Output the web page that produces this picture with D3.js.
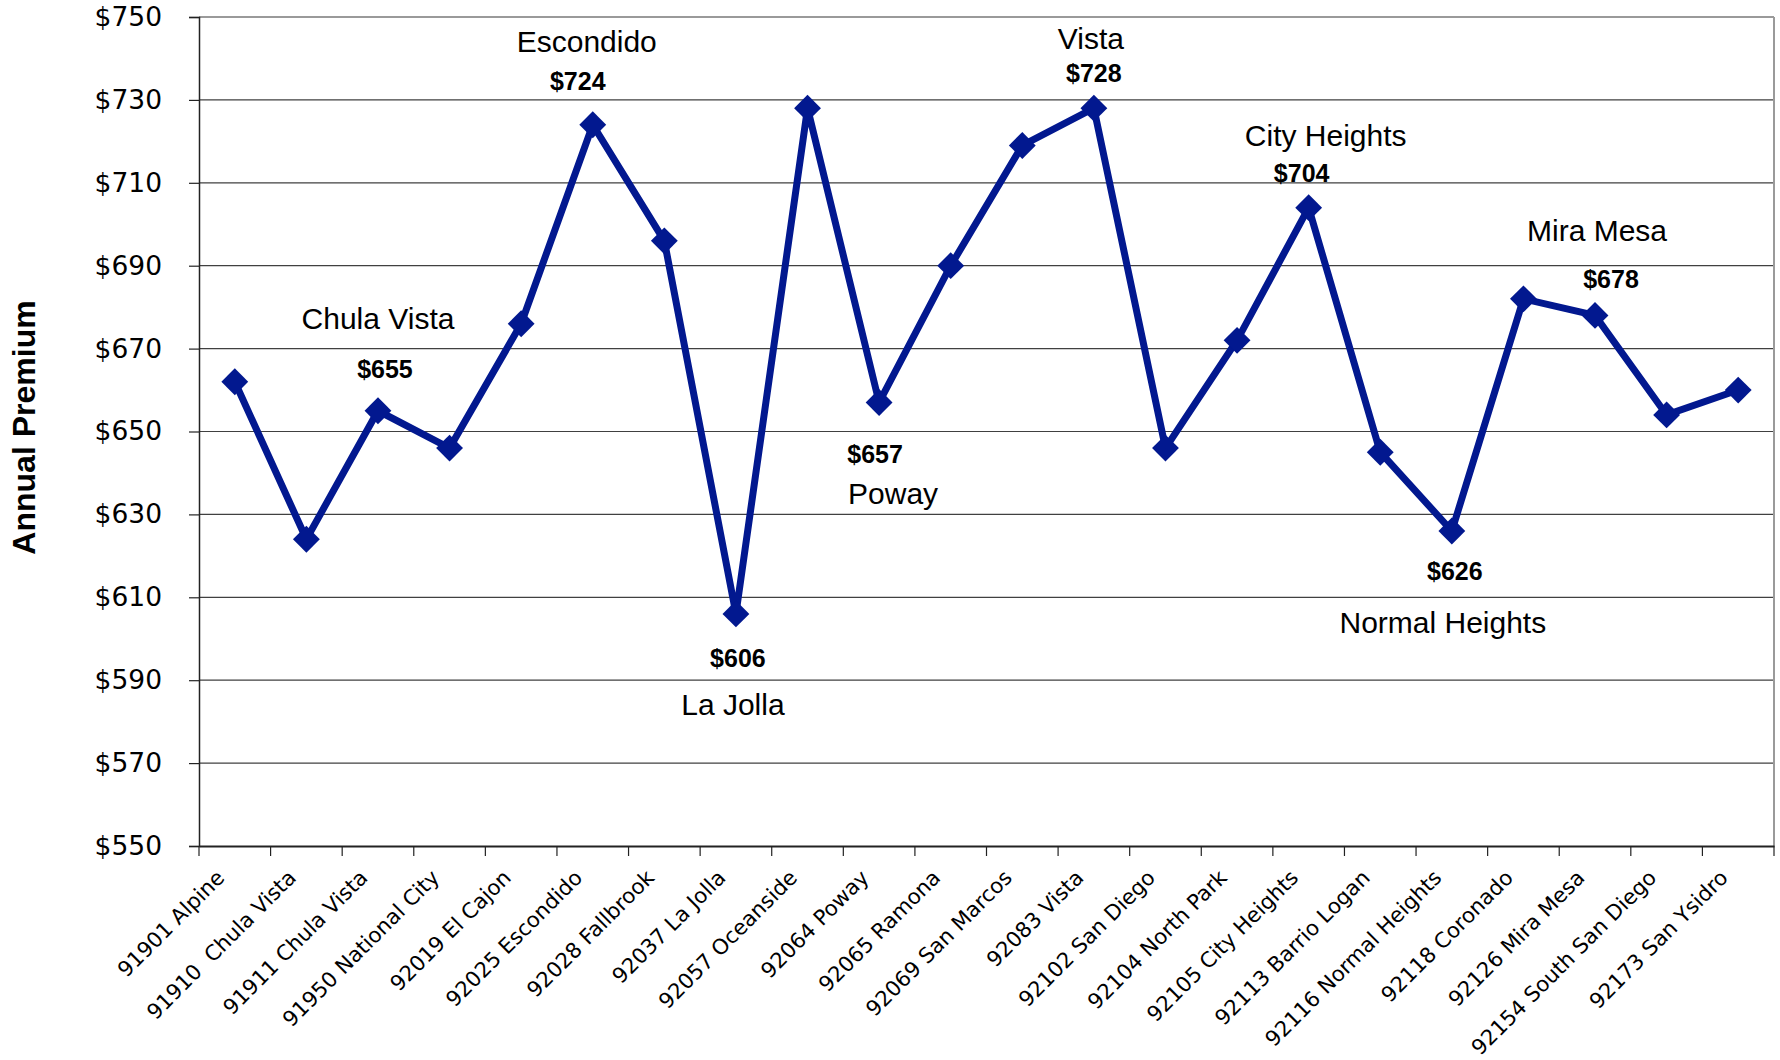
<!DOCTYPE html>
<html>
<head>
<meta charset="utf-8">
<script src="https://cdn.jsdelivr.net/npm/d3@7"></script>
<style>
  html, body { margin: 0; padding: 0; background: #fff; }
  svg { display: block; }
</style>
</head>
<body>
<svg id="chart" width="1780" height="1060"></svg>
<script>
// ---------- DATA ----------
const categories = [
  "91901 Alpine", "91910  Chula Vista", "91911 Chula Vista", "91950 National City",
  "92019 El Cajon", "92025 Escondido", "92028 Fallbrook", "92037 La Jolla",
  "92057 Oceanside", "92064 Poway", "92065 Ramona", "92069 San Marcos",
  "92083 Vista", "92102 San Diego", "92104 North Park", "92105 City Heights",
  "92113 Barrio Logan", "92116 Normal Heights", "92118 Coronado", "92126 Mira Mesa",
  "92154 South San Diego", "92173 San Ysidro"
];
const premiums = [662, 624, 655, 646, 676, 724, 696, 606, 728, 657, 690, 719,
                  728, 646, 672, 704, 645, 626, 682, 678, 654, 660];
const yTicks = [550, 570, 590, 610, 630, 650, 670, 690, 710, 730, 750];
const yAxisTitle = "Annual Premium";
const annotationNames  = ["Chula Vista", "Escondido", "La Jolla", "Poway", "Vista", "City Heights", "Normal Heights", "Mira Mesa"];
const annotationIndex  = [2, 5, 7, 9, 12, 15, 17, 19];

// ---------- LAYOUT (pixel offsets of annotation texts from their point) ----------
const annLayout = [
  { ndx: 0,  ndy: -82, vdx: 7,   vdy: -33 },
  { ndx: -6, ndy: -73, vdx: -15, vdy: -35 },
  { ndx: -3, ndy: 101, vdx: 2,   vdy: 53 },
  { ndx: 14, ndy: 102, vdx: -4,  vdy: 61 },
  { ndx: -3, ndy: -59, vdx: 0,   vdy: -26 },
  { ndx: 17, ndy: -62, vdx: -7,  vdy: -26 },
  { ndx: -9, ndy: 102, vdx: 3,   vdy: 49 },
  { ndx: 2,  ndy: -74, vdx: 16,  vdy: -27 }
];

const margin = { left: 199, right: 6, top: 17, bottom: 214 };
const W = 1780, H = 1060;
const svg = d3.select("#chart");
const plotW = W - margin.left - margin.right;
const plotH = H - margin.top - margin.bottom;

const x = d3.scaleBand().domain(categories).range([margin.left, margin.left + plotW]).padding(0);
const y = d3.scaleLinear().domain([550, 750]).range([margin.top + plotH, margin.top]);
const cx = d => x(d) + x.bandwidth() / 2;

const tickFont = "'DejaVu Sans', Verdana, sans-serif";
const labelFont = "'Liberation Sans', Arial, sans-serif";
const lineColor = "#02188f";

// gridlines
svg.append("g")
  .selectAll("line")
  .data(yTicks.filter(t => t > 550 && t < 750))
  .join("line")
  .attr("x1", margin.left).attr("x2", margin.left + plotW)
  .attr("y1", d => y(d)).attr("y2", d => y(d))
  .attr("stroke", "#404040").attr("stroke-width", 1.2);

// top and right border (grey)
svg.append("line")
  .attr("x1", margin.left).attr("x2", margin.left + plotW)
  .attr("y1", y(750)).attr("y2", y(750))
  .attr("stroke", "#9a9a9a").attr("stroke-width", 2);
svg.append("line")
  .attr("x1", margin.left + plotW).attr("x2", margin.left + plotW)
  .attr("y1", y(750)).attr("y2", y(550))
  .attr("stroke", "#9a9a9a").attr("stroke-width", 2);

// y axis
const yAxis = svg.append("g")
  .attr("transform", `translate(${margin.left},0)`)
  .call(d3.axisLeft(y).tickValues(yTicks).tickFormat(d => "$" + d).tickSize(10).tickPadding(27));
yAxis.select(".domain").attr("stroke", "#222").attr("stroke-width", 1.5);
yAxis.selectAll(".tick line").attr("stroke", "#222").attr("stroke-width", 1.2);
yAxis.selectAll(".tick text")
  .attr("font-family", tickFont).attr("font-size", 26.5).attr("fill", "#000");

// x axis
const xAxis = svg.append("g")
  .attr("transform", `translate(0,${margin.top + plotH})`)
  .call(d3.axisBottom(x).tickSize(0).tickFormat(""));
xAxis.select(".domain").attr("stroke", "#222").attr("stroke-width", 2);
xAxis.selectAll(".tick").remove();
// boundary ticks
const bounds = categories.map(c => x(c)).concat([margin.left + plotW]);
xAxis.selectAll("line.bt")
  .data(bounds)
  .join("line")
  .attr("class", "bt")
  .attr("x1", d => d).attr("x2", d => d)
  .attr("y1", 0).attr("y2", 10)
  .attr("stroke", "#222").attr("stroke-width", 1.2);
// rotated labels
xAxis.selectAll("text.xl")
  .data(categories)
  .join("text")
  .attr("class", "xl")
  .attr("transform", d => `translate(${cx(d) - 9},${33}) rotate(-45)`)
  .attr("text-anchor", "end")
  .attr("font-family", tickFont).attr("font-size", 21.2).attr("fill", "#000")
  .attr("xml:space", "preserve")
  .style("white-space", "pre")
  .text(d => d);

// y axis title
svg.append("text")
  .attr("transform", `translate(35,${(margin.top + margin.top + plotH) / 2 - 4}) rotate(-90)`)
  .attr("text-anchor", "middle")
  .attr("font-family", labelFont).attr("font-weight", "bold").attr("font-size", 32)
  .text(yAxisTitle);

// line
const line = d3.line().x((d, i) => cx(categories[i])).y(d => y(d));
svg.append("path")
  .datum(premiums)
  .attr("d", line)
  .attr("fill", "none")
  .attr("stroke", lineColor)
  .attr("stroke-width", 7)
  .attr("stroke-linejoin", "miter");

// diamond markers
const sym = d3.symbol().type(d3.symbolSquare).size(360);
svg.append("g")
  .selectAll("path")
  .data(premiums)
  .join("path")
  .attr("transform", (d, i) => `translate(${cx(categories[i])},${y(d)}) rotate(45)`)
  .attr("d", sym)
  .attr("fill", lineColor);

// annotations
const ann = svg.append("g");
annotationIndex.forEach((idx, k) => {
  const px = cx(categories[idx]), py = y(premiums[idx]);
  const L = annLayout[k];
  ann.append("text")
    .attr("x", px + L.ndx).attr("y", py + L.ndy)
    .attr("text-anchor", "middle")
    .attr("font-family", labelFont).attr("font-size", 30)
    .text(annotationNames[k]);
  ann.append("text")
    .attr("x", px + L.vdx).attr("y", py + L.vdy)
    .attr("text-anchor", "middle")
    .attr("font-family", labelFont).attr("font-weight", "bold").attr("font-size", 25)
    .text("$" + premiums[idx]);
});
</script>
</body>
</html>
